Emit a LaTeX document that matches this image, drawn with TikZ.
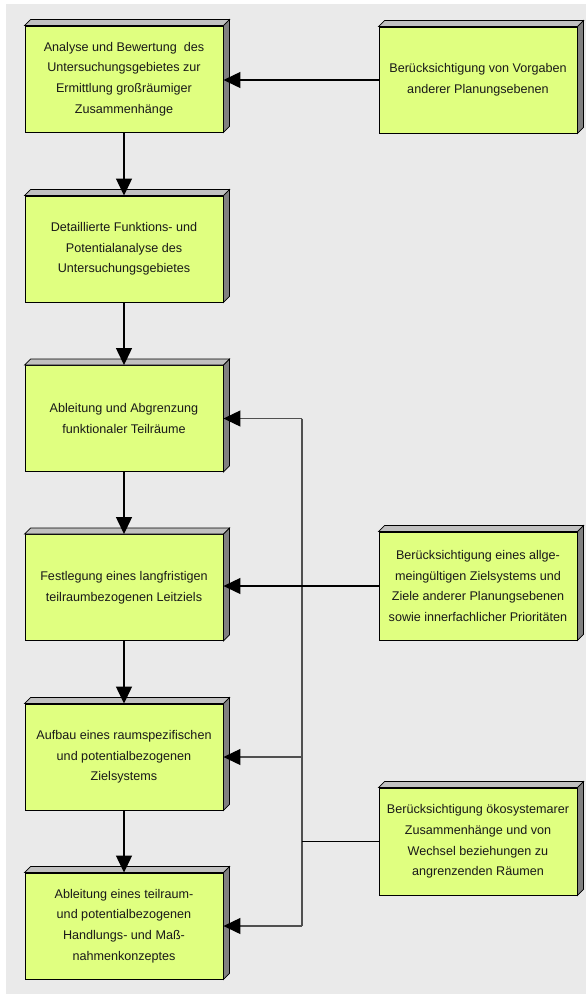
\documentclass[tikz,border=0pt]{standalone}
\usepackage{fontspec}
\setmainfont{Liberation Sans}
\usetikzlibrary{arrows.meta,calc}
\definecolor{bgc}{HTML}{EAEAEA}
\definecolor{boxc}{HTML}{E0FF80}
\definecolor{topc}{HTML}{C0C0C0}
\definecolor{sidec}{HTML}{808080}
\definecolor{busc}{HTML}{505050}
\tikzset{
  box/.style={draw=black, line width=0.9pt, fill=boxc, minimum width=198pt, minimum height=106pt,
    inner sep=0pt, align=center, font=\fontsize{12.6}{20.6}\selectfont, text=black!90},
  face/.style={draw=black, line width=0.7pt},
  conn/.style={draw=black, line width=1.2pt, -{Triangle[length=17pt,width=16pt,color=black]}},
  line/.style={draw=black, line width=1.2pt},
  bus/.style={draw=busc, line width=1.2pt},
}
\newcommand{\mkthreed}[1]{%
  \path[face, fill=topc] (#1.north west) -- ++(6pt,6pt) -- ($(#1.north east)+(6pt,6pt)$) -- (#1.north east) -- cycle;
  \path[face, fill=sidec] (#1.north east) -- ++(6pt,6pt) -- ($(#1.south east)+(6pt,6pt)$) -- (#1.south east) -- cycle;
}
\begin{document}
\begin{tikzpicture}[x=1pt,y=1pt]
\useasboundingbox (0,0) rectangle (586,-994);
\fill[bgc] (6,-4) rectangle (586,-994);
\node[box] (l1) at (124,-79) {Analyse und Bewertung~ des\\Untersuchungsgebietes zur\\Ermittlung großräumiger\\Zusammenhänge};
\node[box] (l2) at (124,-249) {Detaillierte Funktions- und\\Potentialanalyse des\\Untersuchungsgebietes};
\node[box] (l3) at (124,-418.5) {Ableitung und Abgrenzung\\funktionaler Teilräume};
\node[box] (l4) at (124,-587.5) {Festlegung eines langfristigen\\teilraumbezogenen Leitziels};
\node[box] (l5) at (124,-757) {Aufbau eines raumspezifischen\\und potentialbezogenen\\Zielsystems};
\node[box] (l6) at (124,-926) {Ableitung eines teilraum-\\und potentialbezogenen\\Handlungs- und Maß-\\nahmenkonzeptes};
\node[box] (r1) at (478,-80) {Berücksichtigung von Vorgaben\\anderer Planungsebenen};
\node[box, minimum height=108pt] (r2) at (478,-586) {Berücksichtigung eines allge-\\meingültigen Zielsystems und\\Ziele anderer Planungsebenen\\sowie innerfachlicher Prioritäten};
\node[box, minimum height=107pt] (r3) at (478,-841.5) {Berücksichtigung ökosystemarer\\Zusammenhänge und von\\Wechsel beziehungen zu\\angrenzenden Räumen};
\foreach \n in {l1,l2,l3,l4,l5,l6,r1,r2,r3} {\mkthreed{\n}}
\coordinate (bt) at (302,-418.5);
\coordinate (bb) at (302,-926);
\coordinate (bm) at (302,-841.5);
\draw[bus] (bt) -- (bb);
\draw[conn] (r1.west) -- (r1.west -| l1.east);
\draw[conn] (r2.west) -- (r2.west -| l4.east);
\draw[line] (r3.west) -- (bm);
\draw[conn, draw=busc] (bt) -- (l3.east);
\draw[conn, draw=busc] (bt |- l5.east) -- (l5.east);
\draw[conn, draw=busc] (bb) -- (l6.east);
\draw[conn] (l1) -- (l2);
\draw[conn] (l2) -- (l3);
\draw[conn] (l3) -- (l4);
\draw[conn] (l4) -- (l5);
\draw[conn] (l5) -- (l6);
\end{tikzpicture}
\end{document}
